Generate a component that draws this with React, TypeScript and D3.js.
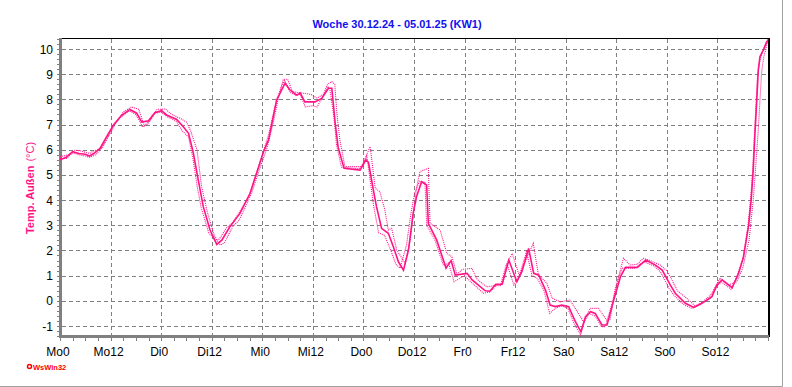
import React from 'react';
import * as d3 from 'd3';

// Woche 30.12.24 - 05.01.25, Temp. Außen (°C), Stunden ab Mo0
const dayLabels = ['Mo0', 'Mo12', 'Di0', 'Di12', 'Mi0', 'Mi12', 'Do0', 'Do12', 'Fr0', 'Fr12', 'Sa0', 'Sa12', 'So0', 'So12'];
const yTicks = [-1, 0, 1, 2, 3, 4, 5, 6, 7, 8, 9, 10];

// Mittelwert (durchgezogene Linie)
const hoursAvg = [0, 1.5, 3, 4.5, 6, 7, 8, 9.5, 11, 12.7, 14.5, 16.6, 18.2, 19.4, 21, 22.5, 24.1, 25.3, 27.7, 29.3, 30.5, 31.6, 32.8, 34, 35.6, 37.2, 38.4, 40.3, 42.7, 45.1, 46.7, 48.3, 49.5, 51.4, 53.4, 54.6, 56.2, 57, 58.1, 60.5, 62.1, 63.7, 64.5, 65.3, 66, 67.4, 71.2, 72.6, 73.2, 74.3, 75.1, 76.3, 77.9, 79.1, 80.3, 81.5, 82.7, 83.8, 84.6, 85.8, 87, 87.4, 89.4, 91.6, 92.8, 93.8, 96.6, 97.8, 100.9, 102, 103.4, 104.9, 106.5, 108.4, 109.6, 111.2, 112.4, 113.6, 115.2, 116.3, 117.5, 119.1, 120.7, 122.3, 123.6, 124.7, 125.9, 127, 128.6, 129.8, 131.4, 133, 134.2, 137, 139, 141.3, 142.9, 144.8, 146, 148.4, 150.4, 152.3, 154.7, 155.9, 157.1, 159.5, 161, 162.2, 163.4, 164, 164.5, 164.9, 165.3, 165.7, 166.1, 166.9, 167.7, 168];
const tempAvg = [5.6, 5.7, 5.92, 5.85, 5.82, 5.75, 5.85, 6.05, 6.5, 6.98, 7.35, 7.6, 7.45, 7.1, 7.15, 7.47, 7.55, 7.38, 7.2, 6.9, 6.65, 5.9, 4.8, 3.74, 2.81, 2.24, 2.41, 2.94, 3.47, 4.27, 5.1, 5.92, 6.4, 7.97, 8.64, 8.37, 8.17, 8.26, 7.9, 7.9, 8.04, 8.44, 8.44, 7.05, 6.1, 5.26, 5.19, 5.6, 5.5, 4.45, 3.74, 2.88, 2.68, 2.15, 1.55, 1.22, 2.02, 3.47, 4.13, 4.73, 4.6, 3.08, 2.41, 1.3, 1.6, 1.02, 1.09, 0.83, 0.4, 0.38, 0.66, 0.66, 1.62, 0.76, 1.16, 2.08, 1.09, 1.02, 0.43, -0.17, -0.23, -0.17, -0.23, -0.83, -1.23, -0.63, -0.43, -0.5, -0.96, -0.96, 0.03, 0.96, 1.33, 1.33, 1.62, 1.42, 1.22, 0.63, 0.3, -0.1, -0.26, -0.1, 0.16, 0.63, 0.83, 0.52, 1.09, 1.75, 3.0, 4.0, 5.19, 6.65, 7.84, 9.17, 9.7, 9.96, 10.29, 10.35];

// Maximum (gepunktet)
const hoursMax = [0, 2, 3.5, 5, 7, 8, 10, 13, 15, 17, 18.7, 20, 21.5, 23, 25, 26.5, 28.5, 30, 31, 32.5, 33.6, 35, 36.6, 38, 39, 41, 42.5, 43.5, 45.5, 47.5, 49, 50.5, 52, 53, 54, 55.2, 57, 59.5, 61, 62.5, 63.5, 64.5, 65.2, 65.7, 66.4, 67.6, 71.6, 73, 73.6, 74.8, 75.9, 77.1, 77.9, 78.7, 79.9, 81.9, 83.1, 84.6, 85.4, 87.4, 87.8, 90.2, 91.8, 93, 94.2, 95.5, 97.7, 99, 101.3, 103, 105, 106.4, 107.3, 109, 110.5, 112.3, 113.5, 115.5, 116.8, 118.7, 121, 123, 124.3, 125.8, 127.8, 129.7, 130.5, 131.7, 133.7, 135.3, 137, 138.4, 140, 142.4, 144, 145.2, 146.5, 148.7, 150.7, 152.5, 154.5, 156.6, 158.6, 160.6, 162, 163.5, 164.5, 165.2, 165.7, 166.1, 166.5, 167, 167.5, 168];
const tempMax = [5.72, 5.8, 5.98, 5.95, 5.85, 5.95, 6.05, 7.0, 7.5, 7.7, 7.6, 6.95, 7.2, 7.6, 7.62, 7.4, 7.25, 7.1, 6.75, 6.0, 4.53, 3.5, 2.6, 2.21, 2.3, 2.95, 3.2, 3.55, 4.3, 5.3, 6.0, 7.0, 8.2, 8.8, 8.8, 8.3, 8.26, 8.2, 8.05, 8.2, 8.6, 8.7, 8.6, 7.45, 6.4, 5.33, 5.33, 5.9, 6.12, 4.47, 4.33, 3.6, 2.81, 2.88, 2.02, 1.49, 2.41, 4.47, 5.13, 5.26, 3.08, 2.81, 1.88, 1.75, 1.05, 1.25, 1.29, 0.85, 0.55, 0.6, 0.66, 1.6, 1.88, 1.0, 1.6, 2.28, 1.05, 0.7, 0.1, -0.04, 0.03, -0.5, -0.85, -0.3, -0.3, -0.76, -0.76, 0.43, 1.69, 1.42, 1.45, 1.69, 1.6, 1.42, 1.2, 0.83, 0.4, 0.1, -0.2, -0.05, 0.25, 0.9, 0.63, 0.76, 1.3, 2.4, 4.0, 5.6, 6.8, 8.0, 9.1, 9.7, 10.0, 10.4];

// Minimum (gepunktet)
const hoursMin = [0, 1.5, 3, 4.5, 6, 7, 8.5, 9.5, 11, 12.5, 14.5, 16.5, 18, 19.6, 21, 22.5, 24, 25.5, 27.5, 29, 30.5, 31.5, 32.5, 33.5, 35.3, 36.8, 37.8, 39.5, 41, 42.5, 45, 46.5, 48, 49.5, 51, 52.5, 53.3, 54.5, 56, 57, 58.2, 60, 61, 62, 63.5, 64, 65, 65.6, 66.8, 71, 72, 72.8, 73.6, 74.4, 75.6, 77, 78.5, 79.7, 80.7, 82.2, 83.3, 84.2, 85.3, 86.6, 87, 89, 91, 92.2, 93.5, 96, 97.5, 100.5, 102, 103.5, 104.5, 106, 107.7, 109, 110.7, 112, 113.2, 114.8, 116.2, 117.5, 119, 120.5, 122, 123.5, 124.5, 125.5, 127, 128.5, 129.4, 131, 132.7, 133.5, 136.5, 138.5, 141, 142.5, 144.5, 145.8, 148, 150, 152, 154.3, 155.6, 157, 159.3, 160.7, 162, 163.2, 163.8, 164.3, 164.7, 165.1, 165.5, 166, 166.7, 167.5, 168];
const tempMin = [5.65, 5.65, 5.88, 5.8, 5.75, 5.7, 5.8, 6.0, 6.4, 6.95, 7.3, 7.55, 7.4, 6.9, 7.05, 7.45, 7.5, 7.3, 7.15, 6.75, 6.5, 5.7, 4.6, 3.7, 2.7, 2.4, 2.45, 2.9, 3.1, 3.5, 4.2, 5.0, 5.8, 6.6, 7.7, 8.5, 8.75, 8.3, 8.15, 8.2, 7.7, 7.75, 7.7, 8.0, 8.5, 8.45, 7.3, 6.2, 5.3, 5.25, 5.45, 5.75, 4.8, 3.8, 2.7, 2.6, 2.0, 1.45, 1.3, 2.2, 3.5, 4.3, 4.75, 4.7, 3.0, 2.4, 1.4, 1.5, 0.76, 1.0, 0.75, 0.3, 0.35, 0.6, 0.6, 1.5, 0.63, 1.0, 1.95, 1.0, 0.9, 0.43, -0.5, -0.3, -0.2, -0.3, -0.9, -1.36, -0.8, -0.5, -0.6, -1.03, -1.03, -0.1, 1.0, 1.3, 1.3, 1.55, 1.38, 1.15, 0.5, 0.2, -0.15, -0.3, -0.15, 0.1, 0.55, 0.75, 0.45, 1.0, 1.65, 2.9, 3.9, 5.0, 6.3, 7.6, 8.9, 9.5, 9.9, 10.2, 10.3];

const W = 792, H = 387;
const left = 60, right = 768, top = 38, bottom = 337;
const pink = '#ff1488';
const font = 'Arial, "Liberation Sans", sans-serif';

export default function App() {
  const x = d3.scaleLinear().domain([0, 168]).range([left, right]);
  const y = d3.scaleLinear().domain([-1, 10]).range([326, 49]);

  const mk = (hs: number[], vs: number[]) =>
    d3.line<number>().x((_, i) => x(hs[i])).y((v) => y(v))(vs) || '';

  const majorX = d3.range(0, 168, 12);
  const minorX = d3.range(0, 169, 3);
  const minorY = d3.range(-1.4, 10.41, 0.2);

  return (
    <svg width={W} height={H} style={{ position: 'absolute', left: 0, top: 0, background: '#fff' }} fontFamily={font}>
      <rect x={0} y={0} width={W} height={H} fill="#fff" />
      {/* window border */}
      <line x1={782.5} y1={0} x2={782.5} y2={386.5} stroke="#a0a0a0" />
      <line x1={0} y1={386.5} x2={782.5} y2={386.5} stroke="#a0a0a0" />

      <text x={397} y={28} textAnchor="middle" fontSize={11} fontWeight="bold" fill="#1010f0">
        Woche 30.12.24 - 05.01.25 (KW1)
      </text>

      {/* grid */}
      <g shapeRendering="crispEdges">
        {yTicks.map((t) => (
          <line key={'gy' + t} x1={left + 2} x2={right - 1} y1={Math.round(y(t)) + 0.5} y2={Math.round(y(t)) + 0.5}
            stroke="#808080" strokeDasharray="4 3" />
        ))}
        {majorX.filter((h) => h > 0).map((h) => (
          <line key={'gx' + h} x1={Math.round(x(h)) + 0.5} x2={Math.round(x(h)) + 0.5} y1={top + 1} y2={bottom - 1}
            stroke="#808080" strokeDasharray="4 3" />
        ))}

        {/* frame */}
        <line x1={left} x2={right + 1} y1={top + 0.5} y2={top + 0.5} stroke="#000" strokeWidth={1.5} />
        <line x1={right + 0.5} x2={right + 0.5} y1={top} y2={bottom} stroke="#000" strokeWidth={2} />
        <line x1={left + 0.5} x2={left + 0.5} y1={top} y2={bottom + 1} stroke="#808080" strokeWidth={2.5} />
        <line x1={left} x2={right + 1} y1={bottom - 0.5} y2={bottom - 0.5} stroke="#808080" strokeWidth={2.5} />

        {/* ticks */}
        {minorX.map((h) => (
          <line key={'tx' + h} x1={Math.round(x(h)) + 0.5} x2={Math.round(x(h)) + 0.5} y1={bottom} y2={bottom + 4}
            stroke="#808080" />
        ))}
        {minorY.map((t, i) => (
          <line key={'ty' + i} x1={left - 3} x2={left} y1={Math.round(y(t)) + 0.5} y2={Math.round(y(t)) + 0.5}
            stroke="#808080" />
        ))}
      </g>

      {/* tick labels */}
      {yTicks.map((t) => (
        <text key={'ly' + t} x={53} y={y(t) + 4.5} textAnchor="end" fontSize={12} fill="#000">{t}</text>
      ))}
      {majorX.map((h, i) => (
        <text key={'lx' + h} x={x(h) - 2} y={356} textAnchor="middle" fontSize={12} fill="#000">{dayLabels[i]}</text>
      ))}

      <text transform="translate(34,188) rotate(-90)" textAnchor="middle" fontSize={11} fill={pink}>
        <tspan fontWeight="bold">Temp. Außen</tspan>
        <tspan dx={4}>(°C)</tspan>
      </text>

      {/* series */}
      <path d={mk(hoursMax, tempMax)} fill="none" stroke={pink} strokeWidth={1.1} strokeDasharray="1 1" />
      <path d={mk(hoursMin, tempMin)} fill="none" stroke={pink} strokeWidth={1.1} strokeDasharray="1 1" />
      <path d={mk(hoursAvg, tempAvg)} fill="none" stroke={pink} strokeWidth={1.6} />

      {/* logo */}
      <circle cx={29.5} cy={366.5} r={2} fill="#fff" stroke="#ff0000" strokeWidth={1.5} />
      <text x={33} y={369.5} fontSize={7.5} fontWeight="bold" fill="#ff0000">WsWin32</text>
    </svg>
  );
}
